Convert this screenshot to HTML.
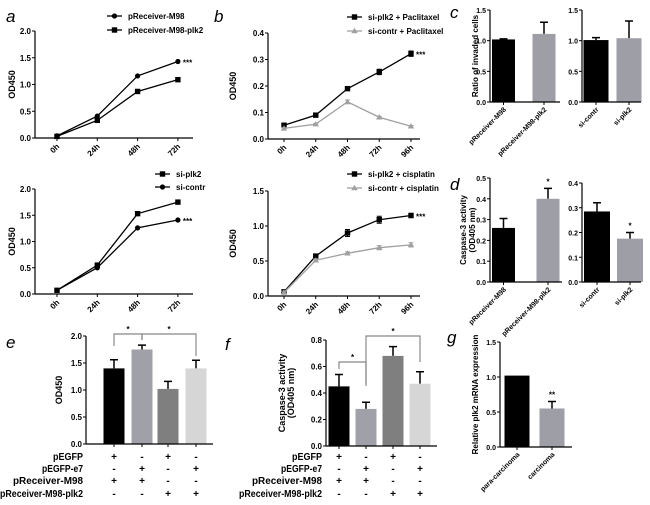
<!DOCTYPE html>
<html><head><meta charset="utf-8">
<style>
html,body{margin:0;padding:0;background:#fff;}
svg{display:block;font-family:"Liberation Sans",Arial,sans-serif;}
.t{font-size:8px;font-weight:bold;fill:#000;}
.ts{font-size:7px;font-weight:bold;fill:#000;}
.tt{font-size:9px;font-weight:bold;fill:#000;}
.tts{font-size:8px;font-weight:bold;fill:#000;}
.lt{font-size:17px;font-style:italic;fill:#000;}
.rw{font-size:10px;font-weight:bold;fill:#000;}
</style></head>
<body>
<svg id="fig" width="650" height="505" viewBox="0 0 650 505" xmlns="http://www.w3.org/2000/svg"></svg>
<script>
// ---------- DATA ----------
const timeCats4 = ["0h","24h","48h","72h"];
const timeCats5 = ["0h","24h","48h","72h","96h"];
const aTopM98 = [0.04,0.41,1.16,1.43];
const aTopPlk2 = [0.03,0.33,0.87,1.09];
const aBotSiPlk2 = [0.07,0.55,1.53,1.75];
const aBotSiContr = [0.07,0.50,1.26,1.41];
const bTopPlk2 = [0.052,0.090,0.190,0.253,0.322];
const bTopPlk2Err = [0.003,0.004,0.004,0.010,0.010];
const bTopContr = [0.040,0.056,0.140,0.082,0.048];
const bTopContrErr = [0.003,0.003,0.007,0.004,0.003];
const bBotPlk2 = [0.06,0.57,0.90,1.09,1.15];
const bBotPlk2Err = [0.02,0.03,0.05,0.05,0.03];
const bBotContr = [0.05,0.51,0.61,0.69,0.73];
const bBotContrErr = [0.02,0.02,0.02,0.03,0.03];
const cLeftCats = ["pReceiver-M98","pReceiver-M98-plk2"];
const cLeftVals = [1.02,1.11];
const cLeftErr = [0.01,0.19];
const cRightCats = ["si-contr","si-plk2"];
const cRightVals = [1.01,1.04];
const cRightErr = [0.04,0.28];
const dLeftVals = [0.26,0.40];
const dLeftErr = [0.045,0.05];
const dRightVals = [0.285,0.175];
const dRightErr = [0.035,0.025];
const eVals = [1.40,1.75,1.02,1.40];
const eErr = [0.16,0.08,0.14,0.15];
const fVals = [0.45,0.28,0.68,0.47];
const fErr = [0.09,0.05,0.07,0.09];
const gCats = ["para-carcinoma","carcinoma"];
const gVals = [1.02,0.55];
const gErr = [0.0,0.10];
const rowLabels = ["pEGFP","pEGFP-e7","pReceiver-M98","pReceiver-M98-plk2"];
const rowSigns = [["+","-","+","-"],["-","+","-","+"],["+","+","-","-"],["-","-","+","+"]];
const ticks2 = [0,0.5,1.0,1.5,2.0];
const ticks15 = [0,0.5,1.0,1.5];
const ticks04 = [0,0.1,0.2,0.3,0.4];
const ticks05 = [0,0.1,0.2,0.3,0.4,0.5];
const ticks08 = [0,0.2,0.4,0.6,0.8];

// ---------- HELPERS ----------
const NS = "http://www.w3.org/2000/svg";
const svg = document.getElementById("fig");
const rowWidths = [30,41,70,83];
function mk(tag, attrs, parent){
  const e = document.createElementNS(NS, tag);
  for (const k in attrs) e.setAttribute(k, attrs[k]);
  (parent||svg).appendChild(e);
  return e;
}
function txt(x,y,s,cls,parent,anchor,rot){
  const e = mk("text",{x:x,y:y,class:cls,"text-anchor":anchor||"start"},parent);
  if (rot!==undefined) e.setAttribute("transform","rotate("+rot+" "+x+" "+y+")");
  e.textContent = s;
  return e;
}
function fmt(v,dec){ return v.toFixed(dec); }
function yAxis(g, ax, y0, yTop, vmax, ticks, dec, cls){
  const sy = v => y0 - (v/vmax)*(y0-yTop);
  const l = mk("line",{x1:ax,y1:y0,x2:ax,y2:yTop,stroke:"#000","stroke-width":1.2},g);
  
  
  ticks.forEach(t=>{
    mk("line",{x1:ax-3,y1:sy(t),x2:ax,y2:sy(t),stroke:"#000","stroke-width":1},g);
    const tl = txt(ax-4, sy(t)+3, fmt(t,dec), cls||"t", g, "end");
    
    
  });
  return sy;
}
function xAxisLine(g, ax, x1, y0){
  const l = mk("line",{x1:ax,y1:y0,x2:x1,y2:y0,stroke:"#000","stroke-width":1.2},g);
  
  
}
function yTitle(g, x, y, lines, cls){
  lines.forEach((s,i)=>{
    const t = txt(x+i*9, y, s, cls||"tt", g, "middle", -90);
    
    
  });
}
function marker(g, type, x, y, color){
  if (type==="circle") return mk("circle",{cx:x,cy:y,r:2.6,fill:color},g);
  if (type==="square") return mk("rect",{x:x-2.7,y:y-2.7,width:5.4,height:5.4,fill:color},g);
  return mk("path",{d:"M"+x+","+(y-3.2)+" L"+(x+3.2)+","+(y+2.2)+" L"+(x-3.2)+","+(y+2.2)+" Z",fill:color},g);
}
function lineChart(cfg){
  const g = mk("g",{});
  
  
  const sy = yAxis(g, cfg.ax, cfg.y0, cfg.yTop, cfg.vmax, cfg.ticks, 1);
  xAxisLine(g, cfg.ax, cfg.axEnd, cfg.y0);
  const sx = i => cfg.first + i*cfg.step;
  cfg.cats.forEach((c,i)=>{
    mk("line",{x1:sx(i),y1:cfg.y0,x2:sx(i),y2:cfg.y0+3,stroke:"#000","stroke-width":1},g);
    const tl = txt(sx(i)+3, cfg.y0+9, c, "t", g, "end", -45);
    
    
  });
  yTitle(g, cfg.titleX, (cfg.y0+cfg.yTop)/2, ["OD450"]);
  cfg.series.forEach(s=>{
    const d = s.vals.map((v,i)=>(i?"L":"M")+sx(i)+","+sy(v)).join(" ");
    const p = mk("path",{d:d,fill:"none",stroke:s.color,"stroke-width":1.3},g);
    
    
    s.vals.forEach((v,i)=>{
      if (s.err){
        const e = s.err[i];
        mk("path",{d:"M"+(sx(i)-2.5)+","+sy(v+e)+" H"+(sx(i)+2.5)+" M"+sx(i)+","+sy(v+e)+" V"+sy(v-e)+" M"+(sx(i)-2.5)+","+sy(v-e)+" H"+(sx(i)+2.5),stroke:s.color,"stroke-width":1,fill:"none"},g);
      }
      const m = marker(g, s.marker, sx(i), sy(v), s.color);
      
      
    });
    if (s.star){
      const st = txt(sx(s.vals.length-1)+5, sy(s.vals[s.vals.length-1])+4, "***", "t", g);
      
      
    }
  });
  cfg.series.forEach((s,i)=>{
    const ly = cfg.legY + i*cfg.legDy;
    const lg = mk("g",{},g);
    
    
    mk("line",{x1:cfg.legX,y1:ly,x2:cfg.legX+15,y2:ly,stroke:s.color,"stroke-width":1.3},lg);
    marker(lg, s.marker, cfg.legX+7.5, ly, s.color);
    txt(cfg.legX+21, ly+3, s.label, "t", lg);
  });
}
function barChart(cfg){
  const g = mk("g",{});
  
  
  const sy = yAxis(g, cfg.ax, cfg.y0, cfg.yTop, cfg.vmax, cfg.ticks, 1, cfg.tickCls);
  cfg.vals.forEach((v,i)=>{
    const cx = cfg.centers[i], w = cfg.width;
    const e = cfg.err[i];
    if (e>0){
      mk("path",{d:"M"+cx+","+sy(v)+" V"+sy(v+e)+" M"+(cx-4)+","+sy(v+e)+" H"+(cx+4),stroke:"#000","stroke-width":1.5,fill:"none"},g);
    }
    const r = mk("rect",{x:cx-w/2,y:sy(v),width:w,height:cfg.y0-sy(v),fill:cfg.colors[i]},g);
    
    
    if (cfg.stars && cfg.stars[i]){
      const s = txt(cx, sy(v+e)-4, cfg.stars[i], "t", g, "middle");
      
      
    }
    mk("line",{x1:cx,y1:cfg.y0,x2:cx,y2:cfg.y0+3,stroke:"#000","stroke-width":1},g);
    if (cfg.cats){
      const tl = txt(cx+3, cfg.y0+8, cfg.cats[i], "ts", g, "end", -45);
      
      
    }
  });
  xAxisLine(g, cfg.ax, cfg.axEnd, cfg.y0);
  if (cfg.title) yTitle(g, cfg.titleX, (cfg.y0+cfg.yTop)/2, cfg.title, cfg.titleCls);
  if (cfg.brackets){
    cfg.brackets.forEach(b=>{
      const bg = mk("g",{},g);
      
      
      const xa = cfg.centers[b.a], xb = cfg.centers[b.b];
      mk("path",{d:"M"+xa+","+b.ya+" V"+b.y+" H"+xb+" V"+b.yb,fill:"none",stroke:"#888","stroke-width":1.2},bg);
      txt((xa+xb)/2, b.y-2, "*", "t", bg, "middle");
    });
  }
  if (cfg.rows){
    cfg.rows.forEach((lab,r)=>{
      const ry = cfg.rowY[r];
      const t = txt(cfg.labelX, ry, lab, "rw", g, "end");
      t.setAttribute("textLength", rowWidths[r]);
      t.setAttribute("lengthAdjust","spacingAndGlyphs");
      
      
      rowSigns[r].forEach((s,i)=>{
        const st = txt(cfg.centers[i], ry, s, "rw", g, "middle");
        
        
      });
    });
  }
  return g;
}
function letter(x,y,s){
  const t = txt(x,y,s,"lt",svg);
  
  
}

// ---------- PANELS ----------
letter(6,22,"a"); letter(214,22,"b"); letter(450,18,"c"); letter(450,190,"d");
letter(6,348,"e"); letter(225,350,"f"); letter(447,343,"g");

lineChart({name:"panel-a-top-chart",ax:35,axEnd:193,y0:138,yTop:31,vmax:2,ticks:ticks2,
  first:57,step:40.3,cats:timeCats4,titleX:15,legX:107,legY:16,legDy:14,
  series:[{key:"m98",label:"pReceiver-M98",vals:aTopM98,color:"#000",marker:"circle",star:true},
          {key:"m98-plk2",label:"pReceiver-M98-plk2",vals:aTopPlk2,color:"#000",marker:"square"}]});
lineChart({name:"panel-a-bottom-chart",ax:35,axEnd:193,y0:294,yTop:189,vmax:2,ticks:ticks2,
  first:57,step:40.3,cats:timeCats4,titleX:15,legX:155,legY:174,legDy:13,
  series:[{key:"si-plk2",label:"si-plk2",vals:aBotSiPlk2,color:"#000",marker:"square"},
          {key:"si-contr",label:"si-contr",vals:aBotSiContr,color:"#000",marker:"circle",star:true}]});
lineChart({name:"panel-b-top-chart",ax:268,axEnd:420,y0:139,yTop:33,vmax:0.4,ticks:ticks04,
  first:284,step:31.75,cats:timeCats5,titleX:236,legX:347,legY:17,legDy:14,
  series:[{key:"si-plk2-paclitaxel",label:"si-plk2 + Paclitaxel",vals:bTopPlk2,err:bTopPlk2Err,color:"#000",marker:"square",star:true},
          {key:"si-contr-paclitaxel",label:"si-contr + Paclitaxel",vals:bTopContr,err:bTopContrErr,color:"#a0a0a0",marker:"tri"}]});
lineChart({name:"panel-b-bottom-chart",ax:268,axEnd:420,y0:296,yTop:191,vmax:1.5,ticks:ticks15,
  first:284,step:31.75,cats:timeCats5,titleX:236,legX:347,legY:174,legDy:14,
  series:[{key:"si-plk2-cisplatin",label:"si-plk2 + cisplatin",vals:bBotPlk2,err:bBotPlk2Err,color:"#000",marker:"square",star:true},
          {key:"si-contr-cisplatin",label:"si-contr + cisplatin",vals:bBotContr,err:bBotContrErr,color:"#a0a0a0",marker:"tri"}]});

barChart({name:"panel-c-left-chart",ax:490,axEnd:560,y0:102,yTop:10,vmax:1.5,ticks:ticks15,tickCls:"ts",
  centers:[503.5,544],width:23,vals:cLeftVals,err:cLeftErr,colors:["#000","#9e9ea6"],cats:cLeftCats,
  title:["Ratio of invaded cells"],titleX:478,titleCls:"tts"});
barChart({name:"panel-c-right-chart",ax:582,axEnd:641,y0:102,yTop:10,vmax:1.5,ticks:ticks15,tickCls:"ts",
  centers:[596,629],width:25,vals:cRightVals,err:cRightErr,colors:["#000","#9e9ea6"],cats:cRightCats});
barChart({name:"panel-d-left-chart",ax:490,axEnd:562,y0:282,yTop:178,vmax:0.5,ticks:ticks05,tickCls:"ts",
  centers:[503.5,548],width:23,vals:dLeftVals,err:dLeftErr,colors:["#000","#9e9ea6"],cats:cLeftCats,
  stars:["","*"],title:["Caspase-3 activity","(OD405 nm)"],titleX:466,titleCls:"tts"});
barChart({name:"panel-d-right-chart",ax:582,axEnd:641,y0:282,yTop:183,vmax:0.4,ticks:ticks04,tickCls:"ts",
  centers:[597,630],width:26,vals:dRightVals,err:dRightErr,colors:["#000","#9e9ea6"],cats:cRightCats,
  stars:["","*"]});
barChart({name:"panel-e-chart",ax:86,axEnd:213,y0:444,yTop:336,vmax:2,ticks:ticks2,
  centers:[114,142,168,196],width:21,vals:eVals,err:eErr,colors:["#000","#a0a0a8","#7f7f7f","#d6d6d6"],
  title:["OD450"],titleX:62,
  brackets:[{a:0,b:1,y:334,ya:346,yb:340},{a:1,b:3,y:334,yb:356,ya:340}],
  rows:rowLabels,rowY:[460,472,484,497],labelX:83});
barChart({name:"panel-f-chart",ax:326,axEnd:437,y0:446,yTop:340,vmax:0.8,ticks:ticks08,
  centers:[339,366,393,420],width:21,vals:fVals,err:fErr,colors:["#000","#a0a0a8","#7f7f7f","#d6d6d6"],
  title:["Caspase-3 activity","(OD405 nm)"],titleX:285,
  brackets:[{a:0,b:1,y:362,ya:369,yb:386},{a:1,b:3,y:336,ya:384,yb:362}],
  rows:rowLabels,rowY:[460,472,484,497],labelX:322});
barChart({name:"panel-g-chart",ax:500,axEnd:572,y0:447,yTop:342,vmax:1.5,ticks:ticks15,tickCls:"ts",
  centers:[517,552],width:25,vals:gVals,err:gErr,colors:["#000","#9e9ea6"],cats:gCats,
  stars:["","**"],title:["Relative plk2 mRNA expression"],titleX:478,titleCls:"tts"});
</script>
</body></html>
